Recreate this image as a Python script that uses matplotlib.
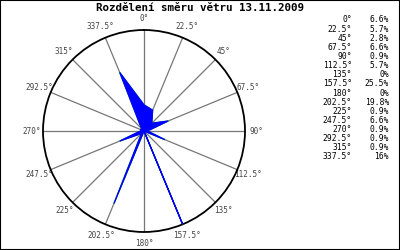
import numpy as np
import matplotlib
matplotlib.use("Agg")
import matplotlib.pyplot as plt

# wind direction shares (%)
directions = [0, 22.5, 45, 67.5, 90, 112.5, 135, 157.5, 180,
              202.5, 225, 247.5, 270, 292.5, 315, 337.5]
shares = [6.6, 5.7, 2.8, 6.6, 0.9, 5.7, 0, 25.5, 0,
          19.8, 0.9, 6.6, 0.9, 0.9, 0.9, 16]
share_labels = ["6.6%", "5.7%", "2.8%", "6.6%", "0.9%", "5.7%", "0%", "25.5%", "0%",
                "19.8%", "0.9%", "6.6%", "0.9%", "0.9%", "0.9%", "16%"]
title = "Rozdělení směru větru 13.11.2009"

mono = "DejaVu Sans Mono"

fig = plt.figure(figsize=(4, 2.5), dpi=100)
fig.patches.append(plt.Rectangle((0, 0), 1, 1, transform=fig.transFigure,
                                 fill=False, edgecolor="black", linewidth=1.5))

fig.text(0.5, 0.968, title, ha="center", va="center", fontsize=7.8,
         fontweight="bold", family=mono)

# polar area: centre ~(144, 131) px, radius ~101 px
ax = fig.add_axes([0.1075, 0.072, 0.505, 0.808], projection="polar")
ax.set_theta_zero_location("N")
ax.set_theta_direction(-1)

theta = np.deg2rad(directions + [directions[0]])
r = shares + [shares[0]]
ax.plot(theta, r, color="#00cc00", linewidth=0.8, zorder=3)
ax.fill(theta, r, facecolor="blue", edgecolor="blue", linewidth=0.9, zorder=4)

ax.set_ylim(0, max(shares))
ax.set_yticks([])
ax.set_thetagrids(directions, labels=[f"{d:g}°" for d in directions],
                  fontsize=5.5, family=mono, color="#444444")
ax.tick_params(axis="x", pad=-2)
ax.xaxis.grid(True, color="#777777", linewidth=0.9)
ax.spines["polar"].set_linewidth(1.3)
ax.spines["polar"].set_color("black")

# legend table on the right
y0, dy = 1 - 20 / 250, 9.13 / 250
for i, (d, s) in enumerate(zip(directions, share_labels)):
    y = y0 - i * dy
    fig.text(352 / 400, y, f"{d:g}°", ha="right", va="center", fontsize=5.8, family=mono)
    fig.text(389 / 400, y, s, ha="right", va="center", fontsize=5.8, family=mono)

fig.savefig("out.png", dpi=100)
